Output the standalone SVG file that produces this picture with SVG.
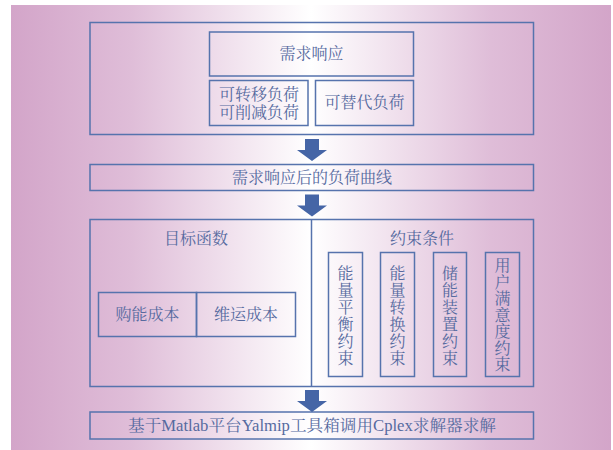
<svg xmlns="http://www.w3.org/2000/svg" width="613" height="450" viewBox="0 0 613 450">
<defs>
<linearGradient id="bg" x1="11" y1="0" x2="611" y2="0" gradientUnits="userSpaceOnUse">
<stop offset="0" stop-color="#d3a5c9"/>
<stop offset="0.2" stop-color="#dfbdd8"/>
<stop offset="0.5" stop-color="#ffffff"/>
<stop offset="0.8" stop-color="#dfbdd8"/>
<stop offset="1" stop-color="#d3a5c9"/>
</linearGradient>
<path id="arrow" d="M-7,0 H7 V11 H15 L0,22 L-15,11 H-7 Z" fill="#4565a6"/>
<style>
.box{fill:none;stroke:#5673ad;stroke-width:1.5}
.t{font-family:"Liberation Serif","Noto Serif CJK SC","Noto Sans CJK SC",serif;font-size:16px;fill:#566a9f;text-anchor:middle;dominant-baseline:central}
</style>
</defs>
<rect x="0" y="0" width="613" height="450" fill="#ffffff"/>
<rect x="11" y="5" width="600" height="445" fill="url(#bg)"/>

<g id="demand-group">
<rect class="box" x="90" y="22.5" width="443.5" height="112"/>
</g>
<g id="demand-response">
<rect class="box" x="209.5" y="32" width="204" height="44"/>
<text class="t" x="311.5" y="53.5">需求响应</text>
</g>
<g id="shiftable-load">
<rect class="box" x="209.5" y="80.5" width="98.5" height="45"/>
<text class="t" x="259" y="94">可转移负荷</text>
<text class="t" x="259" y="112.5">可削减负荷</text>
</g>
<g id="substitutable-load">
<rect class="box" x="315.5" y="80.5" width="98" height="45"/>
<text class="t" x="364.5" y="102">可替代负荷</text>
</g>

<g id="load-curve">
<rect class="box" x="90" y="164.5" width="443.5" height="26"/>
<text class="t" x="312" y="177.5" font-size="16.5">需求响应后的负荷曲线</text>
</g>

<g id="model">
<rect class="box" x="90" y="219.5" width="443.5" height="167"/>
<line class="box" x1="311.5" y1="219.5" x2="311.5" y2="386.5"/>
</g>
<g id="objective">
<text class="t" x="196" y="238">目标函数</text>
</g>
<g id="constraints">
<text class="t" x="422" y="238">约束条件</text>
</g>
<g id="purchase-cost">
<rect class="box" x="98.5" y="292.5" width="98" height="44"/>
<text class="t" x="147.5" y="314.5">购能成本</text>
</g>
<g id="om-cost">
<rect class="box" x="196.5" y="292.5" width="99" height="44"/>
<text class="t" x="246" y="314.5">维运成本</text>
</g>
<g id="c1">
<rect class="box" x="328.5" y="252.5" width="34" height="124"/>
<text class="t" x="345.5"><tspan x="345.5" y="273">能</tspan><tspan x="345.5" y="290">量</tspan><tspan x="345.5" y="307">平</tspan><tspan x="345.5" y="324">衡</tspan><tspan x="345.5" y="341">约</tspan><tspan x="345.5" y="358">束</tspan></text>
</g>
<g id="c2">
<rect class="box" x="380.5" y="252.5" width="34" height="124"/>
<text class="t" x="397.5"><tspan x="397.5" y="273">能</tspan><tspan x="397.5" y="290">量</tspan><tspan x="397.5" y="307">转</tspan><tspan x="397.5" y="324">换</tspan><tspan x="397.5" y="341">约</tspan><tspan x="397.5" y="358">束</tspan></text>
</g>
<g id="c3">
<rect class="box" x="433.5" y="252.5" width="33" height="124"/>
<text class="t" x="450"><tspan x="450" y="273">储</tspan><tspan x="450" y="290">能</tspan><tspan x="450" y="307">装</tspan><tspan x="450" y="324">置</tspan><tspan x="450" y="341">约</tspan><tspan x="450" y="358">束</tspan></text>
</g>
<g id="c4">
<rect class="box" x="485.5" y="252.5" width="34" height="124"/>
<text class="t" x="502.5"><tspan x="502.5" y="265">用</tspan><tspan x="502.5" y="281.5">户</tspan><tspan x="502.5" y="298">满</tspan><tspan x="502.5" y="314.5">意</tspan><tspan x="502.5" y="331">度</tspan><tspan x="502.5" y="347.5">约</tspan><tspan x="502.5" y="364">束</tspan></text>
</g>

<g id="solver">
<rect class="box" x="90" y="412" width="443.5" height="27"/>
<text class="t" x="312" y="425.5" textLength="368" lengthAdjust="spacingAndGlyphs">基于Matlab平台Yalmip工具箱调用Cplex求解器求解</text>
</g>

<g id="connectors">
<use href="#arrow" x="312" y="139"/>
<use href="#arrow" x="312" y="194.5"/>
<use href="#arrow" x="312" y="390"/>
</g>
</svg>
